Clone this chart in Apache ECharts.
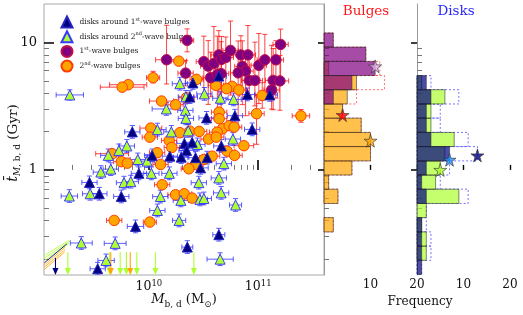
<!DOCTYPE html>
<html><head><meta charset="utf-8">
<script src="https://cdn.jsdelivr.net/npm/echarts@6/dist/echarts.min.js"></script>
<style>html,body{margin:0;padding:0;background:#fff}#c{width:523px;height:315px}</style>
</head><body><div id="c"></div>
<script>
// ---------- DATA (all values in log10: mass in Msun, age in Gyr) ----------
const xRange = [9.041, 11.602];           // 1.1e9 .. 4e11 Msun
const yRange = [-0.824, 1.301];           // 0.15 .. 20 Gyr
const xMajor = [10, 11];
const xMinor = [9.301,9.477,9.602,9.699,9.778,9.845,9.903,9.954,10.301,10.477,10.602,10.699,10.778,10.845,10.903,10.954,11.301,11.477];
const yMajor = [0, 1];
const yMajorLabels = ['1', '10'];
const yMinor = [-0.699,-0.523,-0.398,-0.301,-0.222,-0.155,-0.097,-0.046,0.301,0.477,0.602,0.699,0.778,0.845,0.903,0.954];
const freqTicks = [10, 20];

// [logM, logT, xErr, tErrLow, tErrHigh]
const bulges1st = [
 [10.162,0.864,0.10,0.19,0.27],[10.350,1.016,0.06,0.09,0.09],[10.336,0.759,0.07,0.10,0.10],
 [10.503,0.849,0.07,0.26,0.20],[10.543,0.814,0.07,0.30,0.20],[10.595,0.835,0.07,0.11,0.29],
 [10.640,0.902,0.07,0.36,0.19],[10.665,0.867,0.07,0.30,0.18],[10.704,0.882,0.07,0.25,0.16],
 [10.747,0.937,0.07,0.35,0.23],[10.842,0.902,0.07,0.26,0.15],[10.906,0.902,0.07,0.23,0.23],
 [10.855,0.812,0.07,0.30,0.20],[10.885,0.775,0.07,0.35,0.15],[10.817,0.761,0.07,0.43,0.25],
 [10.565,0.723,0.07,0.15,0.20],[10.627,0.749,0.07,0.27,0.30],[10.661,0.755,0.07,0.28,0.25],
 [10.918,0.702,0.07,0.12,0.20],[10.970,0.702,0.07,0.20,0.30],[11.006,0.820,0.07,0.30,0.25],
 [11.061,0.863,0.07,0.25,0.20],[11.162,0.863,0.07,0.30,0.15],[11.205,0.984,0.07,0.28,0.12],
 [11.137,0.702,0.07,0.23,0.25],[11.199,0.698,0.08,0.23,0.20],[11.123,0.627,0.07,0.15,0.35]
];
const bulges2nd = [
 [10.274,0.853,0.07,0.03,0.03],[10.039,0.723,0.06,0.04,0.05],[10.436,0.710,0.06,0.03,0.03],
 [9.811,0.668,0.17,0.03,0.03],[9.756,0.649,0.20,0.03,0.03],[10.613,0.663,0.07,0.03,0.03],
 [10.762,0.655,0.07,0.03,0.03],[10.711,0.637,0.07,0.03,0.03],[10.823,0.627,0.07,0.03,0.03],
 [11.037,0.584,0.07,0.10,0.10],[10.345,0.566,0.07,0.03,0.03],[10.116,0.540,0.11,0.03,0.03],
 [10.244,0.511,0.07,0.03,0.03],[10.643,0.453,0.07,0.03,0.03],[10.985,0.441,0.07,0.24,0.15],
 [11.391,0.424,0.08,0.05,0.05],[10.643,0.402,0.07,0.03,0.03],[10.018,0.328,0.10,0.03,0.03],
 [10.375,0.304,0.07,0.03,0.03],[10.460,0.302,0.07,0.03,0.03],[10.674,0.323,0.07,0.03,0.03],
 [10.735,0.347,0.07,0.03,0.03],[10.780,0.336,0.07,0.03,0.03],[10.625,0.296,0.07,0.03,0.03],
 [10.284,0.292,0.07,0.03,0.03],[10.009,0.257,0.07,0.03,0.03],[10.186,0.231,0.07,0.03,0.03],
 [10.546,0.242,0.07,0.03,0.03],[10.616,0.257,0.07,0.03,0.03],[10.869,0.190,0.09,0.03,0.03],
 [10.210,0.176,0.07,0.03,0.03],[10.076,0.135,0.07,0.03,0.03],[9.664,0.127,0.15,0.03,0.03],
 [10.716,0.147,0.07,0.03,0.03],[10.784,0.114,0.07,0.03,0.03],[10.579,0.108,0.07,0.03,0.03],
 [10.503,0.082,0.07,0.03,0.03],[9.748,0.065,0.07,0.03,0.03],[9.803,0.053,0.07,0.03,0.03],
 [10.107,0.043,0.07,0.03,0.03],[10.427,0.043,0.07,0.03,0.03],[10.366,0.009,0.07,0.03,0.03],
 [10.122,-0.116,0.07,0.03,0.03],[10.244,-0.195,0.07,0.03,0.03],[10.323,-0.187,0.07,0.03,0.03],
 [10.396,-0.221,0.07,0.03,0.03],[9.683,-0.396,0.07,0.03,0.03],[10.009,-0.409,0.06,0.03,0.03]
];
const disks1st = [
 [10.640,0.736,0.07,0.05,0.05],[10.403,0.682,0.07,0.05,0.05],[10.375,0.571,0.07,0.05,0.05],
 [10.901,0.592,0.07,0.05,0.05],[11.107,0.588,0.07,0.05,0.05],[10.528,0.408,0.07,0.05,0.05],
 [10.787,0.425,0.07,0.05,0.05],[10.945,0.318,0.07,0.05,0.05],[9.849,0.298,0.07,0.05,0.05],
 [10.396,0.216,0.07,0.05,0.05],[10.325,0.208,0.07,0.05,0.05],[10.663,0.188,0.07,0.05,0.05],
 [10.345,0.153,0.07,0.05,0.05],[10.030,0.114,0.07,0.05,0.05],[10.192,0.108,0.07,0.05,0.05],
 [10.296,0.100,0.07,0.05,0.05],[10.427,0.096,0.07,0.05,0.05],[10.533,0.096,0.07,0.05,0.05],
 [10.473,0.016,0.07,0.05,0.05],[9.909,-0.027,0.07,0.05,0.05],[9.457,-0.098,0.07,0.05,0.05],
 [9.547,-0.187,0.07,0.05,0.05],[9.748,-0.208,0.07,0.05,0.05],[9.878,-0.443,0.075,0.05,0.05],
 [10.640,-0.508,0.055,0.05,0.05],[10.352,-0.605,0.05,0.05,0.05],[9.532,-0.775,0.07,0.05,0.05]
];
const disks2nd = [
 [9.277,0.588,0.125,0.04,0.04],[10.284,0.676,0.07,0.05,0.05],[10.339,0.573,0.07,0.05,0.05],
 [10.508,0.596,0.07,0.05,0.05],[10.654,0.562,0.07,0.05,0.05],[10.775,0.553,0.07,0.05,0.05],
 [10.160,0.478,0.13,0.05,0.05],[10.334,0.467,0.07,0.05,0.05],[10.339,0.404,0.07,0.05,0.05],
 [10.078,0.316,0.08,0.05,0.05],[10.206,0.298,0.07,0.05,0.05],[10.360,0.306,0.07,0.05,0.05],
 [10.769,0.242,0.07,0.05,0.05],[10.444,0.200,0.07,0.05,0.05],[9.799,0.188,0.07,0.05,0.05],
 [9.726,0.153,0.07,0.05,0.05],[9.629,0.114,0.07,0.05,0.05],[9.899,0.082,0.07,0.05,0.05],
 [9.984,0.069,0.07,0.05,0.05],[9.561,-0.017,0.07,0.05,0.05],[9.652,0.006,0.07,0.05,0.05],
 [10.023,-0.027,0.07,0.05,0.05],[10.188,-0.027,0.07,0.05,0.05],[10.686,0.049,0.07,0.05,0.05],
 [9.773,-0.100,0.07,0.05,0.05],[9.835,-0.092,0.07,0.05,0.05],[10.457,-0.100,0.07,0.05,0.05],
 [10.640,-0.063,0.07,0.05,0.05],[9.273,-0.205,0.075,0.05,0.05],[9.463,-0.187,0.07,0.05,0.05],
 [10.105,-0.209,0.07,0.05,0.05],[10.293,-0.239,0.07,0.05,0.05],[10.467,-0.231,0.07,0.05,0.05],
 [10.503,-0.224,0.07,0.05,0.05],[10.661,-0.180,0.07,0.05,0.05],[10.793,-0.275,0.055,0.05,0.05],
 [10.078,-0.318,0.07,0.05,0.05],[10.277,-0.396,0.06,0.05,0.05],[9.382,-0.573,0.10,0.05,0.05],
 [9.692,-0.576,0.10,0.05,0.05],[9.609,-0.710,0.075,0.05,0.05],[10.652,-0.700,0.12,0.05,0.05]
];
// upper limits: [logM, logT of arrow top]
const limitsDisk1st = [[9.146,-0.690]];
const limitsDisk2nd = [[9.259,-0.645],[9.641,-0.645],[9.738,-0.645],[9.795,-0.645],[9.890,-0.645],[10.060,-0.645],[10.412,-0.645]];
const limitsBulge2nd = [[9.652,-0.645],[9.830,-0.645]];
// faint diagonal segments in lower-left corner: [logM1, logT1, logM2, logT2]
const cornerDisk2nd = [[9.045,-0.670,9.275,-0.550],[9.045,-0.690,9.275,-0.562],[9.045,-0.710,9.270,-0.575]];
const cornerDisk1st = [[9.045,-0.728,9.250,-0.580]];
const cornerBulge2nd = [[9.045,-0.745,9.235,-0.605],[9.045,-0.762,9.235,-0.625],[9.045,-0.780,9.230,-0.645]];

// histogram bins (log10 t), bottom -> top
const binEdges = [-0.820,-0.709,-0.597,-0.486,-0.374,-0.263,-0.151,-0.040,0.071,0.183,0.294,0.406,0.517,0.629,0.740,0.851,0.963,1.074];
const histBulge2nd = [0,0,0,2,0,3,1,6,10,10,8,4,5,7,1,0,0];
const histBulge1st = [0,0,0,0,0,0,0,0,0,0,0,0,2,6,11,9,2];
const histDisk2nd  = [0,2,2,1,2,9,4,5,6,8,3,3,6,1,0,0,0];
const histDisk1st  = [1,1,1,1,0,2,1,2,7,3,2,2,3,2,0,0,0];
// stars: [frequency, logT]  (1st-wave, all, 2nd-wave)
const starsBulge = [[11,0.812],[4,0.430],[10,0.229]];
const starsDisk  = [[13,0.114],[7,0.080],[5,0.000]];

// ---------- RENDERING ----------
const SERIF = 'DejaVu Serif';
const chart = echarts.init(document.getElementById('c'), null, {renderer:'canvas', width:523, height:315});

function seg(x1,y1,x2,y2,stroke,w){return {type:'line',shape:{x1,y1,x2,y2},style:{stroke,lineWidth:w||1}};}
function errorBars(color){
  return function(params, api){
    const m=api.value(0),t=api.value(1),xe=api.value(2),yl=api.value(3),yh=api.value(4);
    const c=api.coord([m,t]); const cap=2.6; const ch=[];
    if(xe>0){const a=api.coord([m-xe,t]),b=api.coord([m+xe,t]);
      ch.push(seg(a[0],c[1],b[0],c[1],color),seg(a[0],c[1]-cap,a[0],c[1]+cap,color),seg(b[0],c[1]-cap,b[0],c[1]+cap,color));}
    if(yl>0||yh>0){const lo=api.coord([m,t-yl]),hi=api.coord([m,t+yh]);
      ch.push(seg(c[0],lo[1],c[0],hi[1],color),seg(c[0]-cap,lo[1],c[0]+cap,lo[1],color),seg(c[0]-cap,hi[1],c[0]+cap,hi[1],color));}
    return {type:'group',children:ch};
  };
}
function arrows(color){
  return function(params, api){
    const m=api.value(0),t=api.value(1);
    const top=api.coord([m,t]),bot=api.coord([m,yRange[0]]);
    const hw=3,hh=7;
    return {type:'group',children:[
      seg(top[0],top[1],top[0],bot[1]-hh,color,1.1),
      {type:'polygon',shape:{points:[[top[0]-hw,bot[1]-hh],[top[0]+hw,bot[1]-hh],[top[0],bot[1]]]},style:{fill:color}}
    ]};
  };
}
function corner(color){
  return function(params, api){
    const a=api.coord([api.value(0),api.value(1)]),b=api.coord([api.value(2),api.value(3)]);
    return seg(a[0],a[1],b[0],b[1],color,1);
  };
}
function histBars(fill, stroke, dash){
  return function(params, api){
    const n=api.value(0),lo=api.value(1),hi=api.value(2);
    if(!n) return null;
    const a=api.coord([0,hi]),b=api.coord([n,lo]);
    return {type:'rect',shape:{x:a[0],y:a[1],width:b[0]-a[0],height:b[1]-a[1]},
      style:{fill:fill,stroke:stroke,lineWidth:dash?1:0.8,lineDash:dash||null}};
  };
}
const histData = counts => counts.map((n,i)=>[n,binEdges[i],binEdges[i+1]]);
const sumCounts = (a,b) => a.map((v,i)=>v+b[i]);
const pts = arr => arr.map(p=>[p[0],p[1]]);
const starPath = 'path://M50,0 L61,35 L98,35 L68,57 L79,91 L50,70 L21,91 L32,57 L2,35 L39,35 Z';

const legendText = {
  d1:'disks around 1{sup|st}-wave bulges',
  d2:'disks around 2{sup|nd}-wave bulges',
  b1:'1{sup|st}-wave bulges',
  b2:'2{sup|nd}-wave bulges'
};
const ERR_RED='rgba(255,20,20,0.8)', ERR_BLUE='rgba(40,40,255,0.75)';
const LIME='#adff2f', NAVY='#000080', ORANGE='#ffa500', PURPLE='#800080';

function yAxisDef(grid, pos, values, inside, len, color, line){
  return {type:'value',gridIndex:grid,min:yRange[0],max:yRange[1],position:pos,
    axisLine:{show:!!line,lineStyle:{color:'#999',width:1}},splitLine:{show:false},
    axisTick:{show:true,inside:inside,length:len,customValues:values,lineStyle:{color:color,width:color==='#000'?1.5:1}},
    axisLabel:{show:false}};
}
const mainYLabels = Object.assign(yAxisDef(0,'left',yMajor,true,10,'#000',false),{
  axisLabel:{show:true,customValues:yMajor,margin:7,fontSize:13,fontFamily:SERIF,color:'#111',
    formatter:v=>yMajorLabels[yMajor.indexOf(Math.round(v))]}});

const option = {
  animation:false,
  textStyle:{fontFamily:SERIF},
  grid:[
    {left:44,top:4,width:280,height:271,show:true,borderColor:'#a8a8a8',borderWidth:1,backgroundColor:'transparent'},
    {left:324,top:4,width:93,height:271,show:false},
    {left:417,top:4,width:93,height:271,show:false}
  ],
  legend:{
    orient:'vertical',left:55.5,top:10.5,itemWidth:11,itemHeight:11,itemGap:1.7,
    data:['d1','d2','b1','b2'],
    formatter:name=>legendText[name],
    textStyle:{fontFamily:SERIF,fontSize:7.5,color:'#222',lineHeight:10,padding:[0,0,0,2],
      rich:{sup:{fontSize:5,fontFamily:SERIF,verticalAlign:'top',lineHeight:10,color:'#222'}}}
  },
  xAxis:[
    {type:'value',gridIndex:0,min:xRange[0],max:xRange[1],position:'bottom',axisLine:{show:false},splitLine:{show:false},
     axisTick:{show:true,inside:true,length:10,customValues:xMajor,lineStyle:{color:'#000',width:1.6}},
     axisLabel:{show:true,customValues:xMajor,margin:4,color:'#111',
       formatter:v=>'{b|10}{s|'+Math.round(v)+'}',
       rich:{b:{fontSize:12.5,fontFamily:SERIF,lineHeight:16,color:'#111'},s:{fontSize:8.5,fontFamily:SERIF,verticalAlign:'top',lineHeight:16,color:'#111'}}}},
    {type:'value',gridIndex:0,min:xRange[0],max:xRange[1],position:'bottom',axisLine:{show:false},splitLine:{show:false},
     axisTick:{show:true,inside:true,length:5,customValues:xMinor,lineStyle:{color:'#777',width:1}},axisLabel:{show:false}},
    {type:'value',gridIndex:1,min:0,max:20,position:'bottom',axisLine:{show:false},splitLine:{show:false},
     axisTick:{show:true,inside:true,length:5,customValues:freqTicks,lineStyle:{color:'#000',width:1.4}},
     axisLabel:{show:true,customValues:freqTicks,margin:4,fontSize:12,fontFamily:SERIF,color:'#111'}},
    {type:'value',gridIndex:2,min:0,max:20,position:'bottom',axisLine:{show:false},splitLine:{show:false},
     axisTick:{show:true,inside:true,length:5,customValues:freqTicks,lineStyle:{color:'#000',width:1.4}},
     axisLabel:{show:true,customValues:freqTicks,margin:4,fontSize:12,fontFamily:SERIF,color:'#111'}}
  ],
  yAxis:[
    mainYLabels,                                         // 0
    yAxisDef(0,'left',yMinor,true,5,'#777',false),       // 1
    yAxisDef(0,'right',yMajor,true,6,'#000',false),      // 2
    yAxisDef(1,'left',yMajor,false,6,'#000',true),       // 3
    yAxisDef(1,'left',yMinor,true,5,'#777',false),       // 4
    yAxisDef(2,'left',yMajor,false,6,'#000',true),       // 5
    yAxisDef(2,'left',yMinor,true,5,'#777',false)        // 6
  ],
  graphic:[
    {type:'text',x:366,y:11,style:{text:'Bulges',fill:'#ff1a1a',fontSize:13.5,fontFamily:SERIF,align:'center',verticalAlign:'middle',textAlign:'center',textVerticalAlign:'middle'}},
    {type:'text',x:456,y:11,style:{text:'Disks',fill:'#2a2aff',fontSize:13.5,fontFamily:SERIF,align:'center',verticalAlign:'middle',textAlign:'center',textVerticalAlign:'middle'}},
    {type:'text',x:420,y:302,style:{text:'Frequency',fill:'#111',fontSize:12,fontFamily:SERIF,align:'center',verticalAlign:'middle',textAlign:'center',textVerticalAlign:'middle'}},
    {type:'text',x:184,y:300,style:{text:'{i|M}{sub|b, d}{n| (M}{sub|⊙}{n|)}',fill:'#111',align:'center',verticalAlign:'middle',textAlign:'center',textVerticalAlign:'middle',
      rich:{i:{fontSize:13,fontFamily:SERIF,fontStyle:'italic',lineHeight:18,fill:'#111'},n:{fontSize:13,fontFamily:SERIF,lineHeight:18,fill:'#111'},
            sub:{fontSize:9,fontFamily:SERIF,verticalAlign:'bottom',lineHeight:18,fill:'#111'}}}},
    {type:'text',x:13,y:143,rotation:Math.PI/2,style:{text:'{i|t\u0304}{subi|M}{sub|, b, d}{n| (Gyr)}',fill:'#111',align:'center',verticalAlign:'middle',textAlign:'center',textVerticalAlign:'middle',
      rich:{i:{fontSize:14,fontFamily:SERIF,fontStyle:'italic',lineHeight:18,fill:'#111'},n:{fontSize:13.5,fontFamily:SERIF,lineHeight:18,fill:'#111'},
            subi:{fontSize:9,fontFamily:SERIF,fontStyle:'italic',verticalAlign:'bottom',lineHeight:18,fill:'#111'},
            sub:{fontSize:9,fontFamily:SERIF,verticalAlign:'bottom',lineHeight:18,fill:'#111'}}}}
  ],
  series:[
    // corner segments
    {type:'custom',xAxisIndex:0,yAxisIndex:0,clip:true,z:2,renderItem:corner('rgba(173,255,47,0.8)'),data:cornerDisk2nd,encode:{x:[0,2],y:[1,3]},silent:true},
    {type:'custom',xAxisIndex:0,yAxisIndex:0,clip:true,z:2,renderItem:corner('rgba(0,0,128,0.85)'),data:cornerDisk1st,encode:{x:[0,2],y:[1,3]},silent:true},
    {type:'custom',xAxisIndex:0,yAxisIndex:0,clip:true,z:2,renderItem:corner('rgba(255,165,0,0.8)'),data:cornerBulge2nd,encode:{x:[0,2],y:[1,3]},silent:true},
    // error bars
    {type:'custom',xAxisIndex:0,yAxisIndex:0,clip:true,z:2,renderItem:errorBars(ERR_RED),data:bulges1st,encode:{x:0,y:1},silent:true},
    {type:'custom',xAxisIndex:0,yAxisIndex:0,clip:true,z:2,renderItem:errorBars(ERR_RED),data:bulges2nd,encode:{x:0,y:1},silent:true},
    {type:'custom',xAxisIndex:0,yAxisIndex:0,clip:true,z:2,renderItem:errorBars(ERR_BLUE),data:disks1st,encode:{x:0,y:1},silent:true},
    {type:'custom',xAxisIndex:0,yAxisIndex:0,clip:true,z:2,renderItem:errorBars(ERR_BLUE),data:disks2nd,encode:{x:0,y:1},silent:true},
    // upper limits
    {type:'custom',xAxisIndex:0,yAxisIndex:0,z:3,renderItem:arrows(LIME),data:limitsDisk2nd,encode:{x:0,y:1},silent:true},
    {type:'custom',xAxisIndex:0,yAxisIndex:0,z:3,renderItem:arrows(ORANGE),data:limitsBulge2nd,encode:{x:0,y:1},silent:true},
    {type:'custom',xAxisIndex:0,yAxisIndex:0,z:3,renderItem:arrows(NAVY),data:limitsDisk1st,encode:{x:0,y:1},silent:true},
    // markers
    {name:'b2',type:'scatter',xAxisIndex:0,yAxisIndex:0,z:4,symbol:'circle',symbolSize:10.5,data:pts(bulges2nd),
     itemStyle:{color:ORANGE,borderColor:'#ff3c00',borderWidth:1,opacity:1}},
    {name:'b1',type:'scatter',xAxisIndex:0,yAxisIndex:0,z:4,symbol:'circle',symbolSize:10.5,data:pts(bulges1st),
     itemStyle:{color:PURPLE,borderColor:'#c0104a',borderWidth:1,opacity:1}},
    {name:'d2',type:'scatter',xAxisIndex:0,yAxisIndex:0,z:5,symbol:'triangle',symbolSize:10,data:pts(disks2nd),
     itemStyle:{color:LIME,borderColor:'#3a3aff',borderWidth:1,opacity:1}},
    {name:'d1',type:'scatter',xAxisIndex:0,yAxisIndex:0,z:5,symbol:'triangle',symbolSize:10,data:pts(disks1st),
     itemStyle:{color:NAVY,borderColor:'#2525c0',borderWidth:1,opacity:1}},
    // bulge histograms
    {type:'custom',xAxisIndex:2,yAxisIndex:3,z:2,renderItem:histBars('none','rgba(255,60,60,0.75)',[2,2]),data:histData(sumCounts(histBulge1st,histBulge2nd)),encode:{x:0,y:[1,2]},silent:true},
    {type:'custom',xAxisIndex:2,yAxisIndex:3,z:3,renderItem:histBars('rgba(255,165,0,0.7)','rgba(40,40,40,0.7)'),data:histData(histBulge2nd),encode:{x:0,y:[1,2]},silent:true},
    {type:'custom',xAxisIndex:2,yAxisIndex:3,z:4,renderItem:histBars('rgba(128,0,128,0.7)','rgba(40,40,40,0.7)'),data:histData(histBulge1st),encode:{x:0,y:[1,2]},silent:true},
    // disk histograms
    {type:'custom',xAxisIndex:3,yAxisIndex:5,z:2,renderItem:histBars('none','rgba(70,70,255,0.75)',[2,2]),data:histData(sumCounts(histDisk1st,histDisk2nd)),encode:{x:0,y:[1,2]},silent:true},
    {type:'custom',xAxisIndex:3,yAxisIndex:5,z:3,renderItem:histBars('rgba(173,255,47,0.7)','rgba(40,40,40,0.7)'),data:histData(histDisk2nd),encode:{x:0,y:[1,2]},silent:true},
    {type:'custom',xAxisIndex:3,yAxisIndex:5,z:4,renderItem:histBars('rgba(0,0,128,0.7)','rgba(40,40,40,0.7)'),data:histData(histDisk1st),encode:{x:0,y:[1,2]},silent:true},
    // stars
    {type:'scatter',xAxisIndex:2,yAxisIndex:3,z:6,symbol:starPath,symbolSize:13,silent:true,
     data:starsBulge.map((p,i)=>({value:p,itemStyle:{color:['#e6a8e6','#ff0000','#ffa500'][i]}})),
     itemStyle:{borderColor:'#333',borderWidth:0.8}},
    {type:'scatter',xAxisIndex:3,yAxisIndex:5,z:6,symbol:starPath,symbolSize:13,silent:true,
     data:starsDisk.map((p,i)=>({value:p,itemStyle:{color:['#000080','#1e90ff','#adff2f'][i]}})),
     itemStyle:{borderColor:'#333',borderWidth:0.8}}
  ]
};
chart.setOption(option);
</script></body></html>
